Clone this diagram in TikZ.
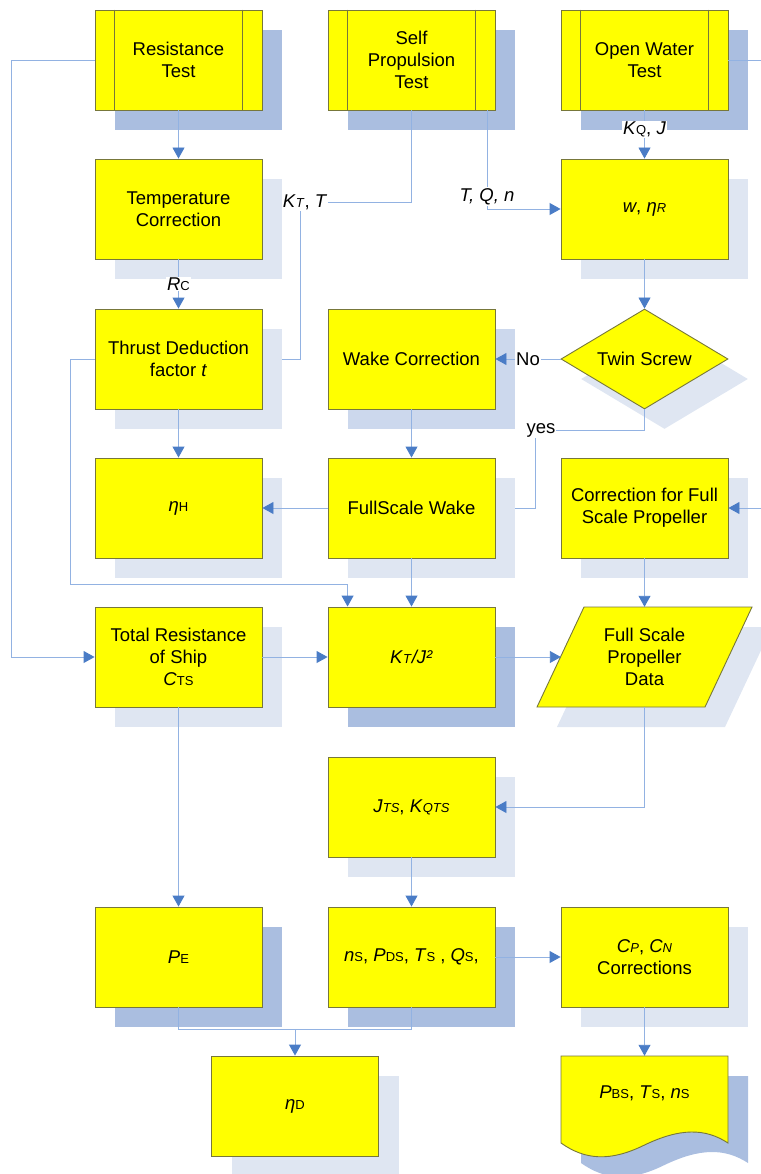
\documentclass[tikz,border=0pt]{standalone}
\usepackage{fontspec}
\setmainfont{Liberation Sans}
\usetikzlibrary{arrows.meta,shapes.geometric,shadows}
\definecolor{boxyellow}{HTML}{FFFF00}
\definecolor{boxedge}{HTML}{77773A}
\definecolor{shdark}{HTML}{AABEE0}
\definecolor{shmid}{HTML}{CCD8ED}
\definecolor{shlight}{HTML}{DFE6F2}
\definecolor{linkblue}{HTML}{92B2E2}
\definecolor{tipblue}{HTML}{4A7CC6}
\newcommand\lo[1]{{\fontsize{13}{13}\selectfont #1}}
\pgfdeclarelayer{background}
\pgfsetlayers{background,main}
\tikzset{
  base/.style={font=\fontsize{18.5}{22}\selectfont, align=center, inner sep=1pt},
  box/.style={base, draw=boxedge, fill=boxyellow, line width=0.9pt,
    minimum width=167pt, minimum height=100pt,
    general shadow={fill=#1, shadow xshift=20pt, shadow yshift=-20pt}},
  box/.default=shlight,
  decision/.style={box=#1, diamond, aspect=1.67},
  decision/.default=shlight,
  frame/.style={base, minimum width=167pt, minimum height=100pt},
  edge/.style={draw=boxedge, line width=0.9pt},
  plain/.style={draw=linkblue, line width=0.9pt},
  link/.style={plain, -{Triangle[length=11pt,width=12pt,color=tipblue]}},
  lbl/.style={base, fill=white, inner sep=1pt}
}
\begin{document}
\begin{tikzpicture}[x=1pt,y=-1pt]
\useasboundingbox (0,0) rectangle (760,1174);
\node[box=shdark] (restest) at (178.5,60) {Resistance\\Test};
\node[box=shdark] (selfp) at (411.5,60) {Self\\Propulsion\\Test};
\node[box=shdark] (openw) at (644.5,60) {Open Water\\Test};
\foreach \n in {restest,selfp,openw}{
  \draw[edge] ([xshift=20pt]\n.north west) -- ([xshift=20pt]\n.south west);
  \draw[edge] ([xshift=-20pt]\n.north east) -- ([xshift=-20pt]\n.south east);
}
\node[box] (tempc) at (178.5,209) {Temperature\\Correction};
\node[box] (wetar) at (644.5,209) {\textit{w}, \textit{η}\lo{\textit{R}}};
\node[box] (thrust) at (178.5,359) {Thrust Deduction\\factor \textit{t}};
\node[box=shmid] (wakec) at (411.5,359) {Wake Correction};
\node[decision] (twin) at (644.5,359) {Twin Screw};
\node[box] (etah) at (178.5,508) {\textit{η}\lo{H}};
\node[box] (fsw) at (411.5,508) {FullScale Wake};
\node[box] (corrfsp) at (644.5,508) {Correction for Full\\Scale Propeller};
\node[box] (cts) at (178.5,657) {Total Resistance\\of Ship\\\textit{C}\lo{TS}};
\node[box=shdark] (ktj) at (411.5,657) {\textit{K}\lo{\textit{T}}\textit{/J²}};
\node[frame] (fspd) at (644.5,657) {Full Scale\\Propeller\\Data};
\node[box] (jts) at (411.5,807) {\textit{J}\lo{\textit{TS}}, \textit{K}\lo{\textit{QTS}}};
\node[box=shdark] (pe) at (178.5,957) {\textit{P}\lo{E}};
\node[box=shdark] (ns) at (411.5,957) {\textit{n}\lo{S}, \textit{P}\lo{DS}, \textit{T}\lo{S} , \textit{Q}\lo{S},};
\node[box] (cpcn) at (644.5,957) {\textit{C}\lo{\textit{P}}, \textit{C}\lo{\textit{N}}\\Corrections};
\node[box] (etad) at (295,1106) {\textit{η}\lo{D}};
\node[frame] (pbs) at (644.5,1106) {};
\node[base] (pbstxt) at ([yshift=13pt]pbs.center) {\textit{P}\lo{BS}, \textit{T}\lo{S}, \textit{n}\lo{S}};
\begin{pgfonlayer}{background}
  \fill[shlight, shift={(20,20)}] (537,707) -- (584,607) -- (752,607) -- (705,707) -- cycle;
  \filldraw[edge, fill=boxyellow] (537,707) -- (584,607) -- (752,607) -- (705,707) -- cycle;
  \fill[shdark, shift={(20,20)}] (561,1056) -- (728,1056) -- (728,1143)
    .. controls (705,1128) and (680,1128) .. (644.5,1145)
    .. controls (610,1162) and (585,1160) .. (561,1143) -- cycle;
  \filldraw[edge, fill=boxyellow] (561,1056) -- (728,1056) -- (728,1143)
    .. controls (705,1128) and (680,1128) .. (644.5,1145)
    .. controls (610,1162) and (585,1160) .. (561,1143) -- cycle;
\end{pgfonlayer}
\coordinate (ktt) at (300,202);
\coordinate (tqn) at (487,209);
\coordinate (yes) at (535,430);
\coordinate (tdk) at (70,584);
\coordinate (mrg) at ([yshift=26pt]etad.north);
\draw[link] (restest) -- (tempc);
\draw[link] (restest.west) -- ++(-83,0) |- (cts.west);
\draw[link] (tempc) -- node[lbl] (rclbl) {\textit{R}\lo{C}} (thrust);
\draw[plain] (selfp.south) |- (ktt) |- ([xshift=20pt]thrust.east);
\node[lbl] (ktlbl) at ([xshift=5pt]ktt) {\textit{K}\lo{\textit{T}}, \textit{T}};
\draw[link] (tqn |- selfp.south) |- (wetar.west);
\node[lbl, anchor=south] (tqnlbl) at ([yshift=3pt]tqn) {\textit{T, Q, n}};
\draw[link] (openw) -- node[lbl, pos=0.4] (kqlbl) {\textit{K}\lo{Q}, \textit{J}} (wetar);
\draw[link] (openw.east) -- ++(40,0) |- (corrfsp.east);
\draw[link] (wetar) -- (twin);
\draw[link] (twin) -- node[lbl] (nolbl) {No} (wakec);
\draw[plain] (twin.south) |- (yes) |- ([xshift=20pt]fsw.east);
\node[lbl] (yeslbl) at ([xshift=6pt]yes) {yes};
\draw[link] (wakec) -- (fsw);
\draw[link] (thrust) -- (etah);
\draw[link] (fsw) -- (etah);
\draw[link] (thrust.west) -| (tdk) -| ([xshift=20pt]ktj.north west);
\draw[link] (fsw) -- (ktj);
\draw[link] (corrfsp) -- (fspd);
\draw[link] (cts) -- (ktj);
\draw[link] (ktj) -- (fspd);
\draw[link] (fspd.south) |- (jts.east);
\draw[link] (jts) -- (ns);
\draw[link] (cts) -- (pe);
\draw[link] (ns) -- (cpcn);
\draw[link] (cpcn) -- (pbs);
\draw[plain] (pe.south) |- (mrg) -| (ns.south);
\draw[link] (mrg) -- (etad);
\end{tikzpicture}
\end{document}
